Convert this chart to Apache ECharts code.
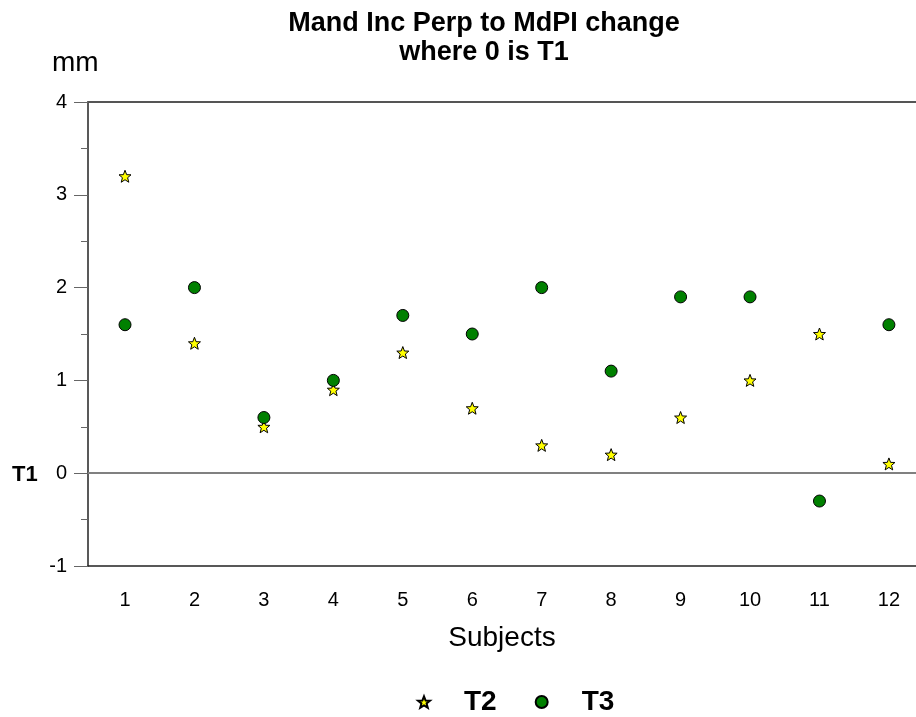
<!DOCTYPE html>
<html>
<head>
<meta charset="utf-8">
<script src="https://cdn.jsdelivr.net/npm/echarts@6/dist/echarts.min.js"></script>
<style>
html,body{margin:0;padding:0;background:#fff;}
#main{width:916px;height:717px;}
</style>
</head>
<body>
<div id="main"></div>
<script>
// 数据
var subjects = [1, 2, 3, 4, 5, 6, 7, 8, 9, 10, 11, 12];
var t2 = [3.2, 1.4, 0.5, 0.9, 1.3, 0.7, 0.3, 0.2, 0.6, 1.0, 1.5, 0.1];
var t3 = [1.6, 2.0, 0.6, 1.0, 1.7, 1.5, 2.0, 1.1, 1.9, 1.9, -0.3, 1.6];
var yTicks = [-1, 0, 1, 2, 3, 4];

var font = '"Liberation Sans", Arial, sans-serif';
var star = 'path://M0,-10 L2.6,-3.3 9.5,-3.1 4.1,1.3 6,8.1 0,4.3 -6,8.1 -4.1,1.3 -9.5,-3.1 -2.6,-3.3 Z';

function pairs(vals){
	return subjects.map(function(s, i){ return [s, vals[i]]; });
}

var myChart = echarts.init(document.getElementById('main'));
var option = {
	animation: false,
	textStyle: {fontFamily: font},
	title: [
		{
			text: 'Mand Inc Perp to MdPI change\nwhere 0 is T1',
			left: 479,
			textAlign: 'center',
			top: 4,
			textStyle: {fontSize: 27, fontWeight: 'bold', color: '#000', lineHeight: 29, fontFamily: font}
		},
		{
			text: 'mm', left: 47, top: 44,
			textStyle: {fontSize: 28, fontWeight: 'normal', color: '#000', fontFamily: font}
		},
		{
			text: 'T1', left: 7, top: 459,
			textStyle: {fontSize: 22, fontWeight: 'bold', color: '#000', fontFamily: font}
		}
	],
	grid: {
		left: 88, right: 0, top: 102, bottom: 151
	},
	legend: {
		left: 412, top: 683,
		itemWidth: 12, itemHeight: 12, itemGap: 38,
		data: ['T2', 'T3'],
		formatter: '{a|{name}}',
		textStyle: {
			fontSize: 28, fontWeight: 'bold', color: '#000', fontFamily: font,
			rich: {
				a: {fontSize: 28, fontWeight: 'bold', padding: [0, 0, 0, 29], fontFamily: font}
			}
		}
	},
	xAxis: [
		{
			type: 'value',
			min: 0.467, max: 12.39,
			name: 'Subjects',
			nameLocation: 'middle',
			nameGap: 58,
			nameTextStyle: {fontSize: 28, color: '#000', fontFamily: font},
			axisLine: {show: true, onZero: false, lineStyle: {color: '#222', width: 1.5}},
			axisTick: {show: false},
			splitLine: {show: false},
			axisLabel: {
				customValues: subjects,
				fontSize: 20, color: '#000', margin: 24, fontFamily: font
			}
		},
		{
			type: 'value',
			position: 'top',
			min: 0.467, max: 12.39,
			axisLine: {show: true, onZero: false, lineStyle: {color: '#555', width: 2}},
			axisTick: {show: false},
			axisLabel: {show: false},
			splitLine: {show: false}
		}
	],
	yAxis: {
		type: 'value',
		min: -1, max: 4, interval: 1,
		axisLine: {show: true, onZero: false, lineStyle: {color: '#222', width: 1.5}},
		axisTick: {show: true, length: 14, lineStyle: {color: '#666'}},
		minorTick: {show: true, splitNumber: 2, length: 7, lineStyle: {color: '#666'}},
		splitLine: {show: false},
		axisLabel: {fontSize: 20, color: '#000', margin: 21, fontFamily: font,
			customValues: yTicks}
	},
	series: [
		{
			name: 'T2',
			type: 'scatter',
			symbol: star,
			symbolSize: 12,
			itemStyle: {color: '#ffff00', borderColor: '#000', borderWidth: 1, opacity: 1},
			data: pairs(t2),
			z: 3,
			markLine: {
				silent: true,
				symbol: 'none',
				label: {show: false},
				lineStyle: {color: '#808080', width: 2, type: 'solid'},
				data: [{yAxis: 0}]
			}
		},
		{
			name: 'T3',
			type: 'scatter',
			symbol: 'circle',
			symbolSize: 12,
			itemStyle: {color: '#008000', borderColor: '#000', borderWidth: 1, opacity: 1},
			data: pairs(t3),
			z: 3
		}
	]
};
myChart.setOption(option, true);
</script>
</body>
</html>
